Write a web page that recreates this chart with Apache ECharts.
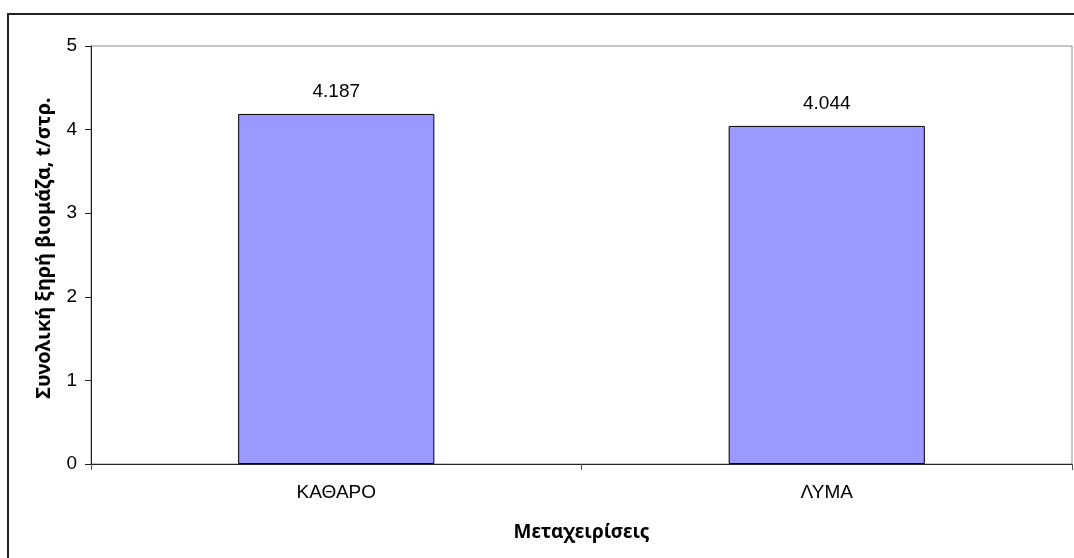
<!DOCTYPE html>
<html>
<head>
<meta charset="utf-8">
<script src="https://cdn.jsdelivr.net/npm/echarts@6/dist/echarts.min.js"></script>
<style>
  html, body { margin: 0; padding: 0; background: #fff; }
  #chart { width: 1074px; height: 558px; }
</style>
</head>
<body>
<div id="chart"></div>
<script>
// Treatments and total dry biomass per stremma
const categories = ['ΚΑΘΑΡΟ', 'ΛΥΜΑ'];
const biomass = [4.187, 4.044];
const yTicks = [0, 1, 2, 3, 4, 5];

const FONT = '"Liberation Sans", Arial, sans-serif';
const TITLE_FONT = '"Noto Sans", "Open Sans", sans-serif';

const chart = echarts.init(document.getElementById('chart'), null, { renderer: 'canvas' });

chart.setOption({
  animation: false,
  backgroundColor: '#ffffff',
  graphic: [{
    type: 'rect',
    shape: { x: 8, y: 14, width: 1200, height: 700 },
    style: { fill: 'none', stroke: '#222', lineWidth: 2 },
    silent: true,
    z: 0
  }],
  grid: {
    left: 91, top: 46, right: 2, bottom: 94,
    show: true,
    borderColor: '#8c8c8c',
    borderWidth: 1,
    backgroundColor: '#ffffff'
  },
  xAxis: {
    type: 'category',
    data: categories,
    boundaryGap: true,
    name: 'Μεταχειρίσεις',
    nameLocation: 'middle',
    nameGap: 59,
    nameTextStyle: { fontFamily: TITLE_FONT, fontWeight: 'bold', fontSize: 19, color: '#000' },
    axisLine: { lineStyle: { color: '#222', width: 1 } },
    axisTick: { show: true, length: 6, lineStyle: { color: '#555' }, interval: 0 },
    axisLabel: { fontFamily: FONT, fontSize: 19, color: '#000', margin: 19 }
  },
  yAxis: {
    type: 'value',
    min: yTicks[0],
    max: yTicks[yTicks.length - 1],
    interval: 1,
    name: 'Συνολική ξηρή βιομάζα, t/στρ.',
    nameLocation: 'middle',
    nameGap: 37,
    nameTextStyle: { fontFamily: TITLE_FONT, fontWeight: 'bold', fontSize: 20, color: '#000', padding: [0, 0, 0, 14] },
    axisLine: { show: true, lineStyle: { color: '#222', width: 1 } },
    axisTick: { show: true, length: 6, lineStyle: { color: '#222' } },
    axisLabel: { fontFamily: FONT, fontSize: 19, color: '#000', margin: 14 },
    splitLine: { show: false }
  },
  series: [{
    type: 'bar',
    data: biomass,
    barWidth: '40%',
    itemStyle: { color: '#9999ff', borderColor: '#000', borderWidth: 1 },
    label: {
      show: true,
      position: 'top',
      distance: 13,
      fontFamily: FONT,
      fontSize: 19,
      color: '#000',
      formatter: p => p.value.toFixed(3)
    }
  }]
});
</script>
</body>
</html>
